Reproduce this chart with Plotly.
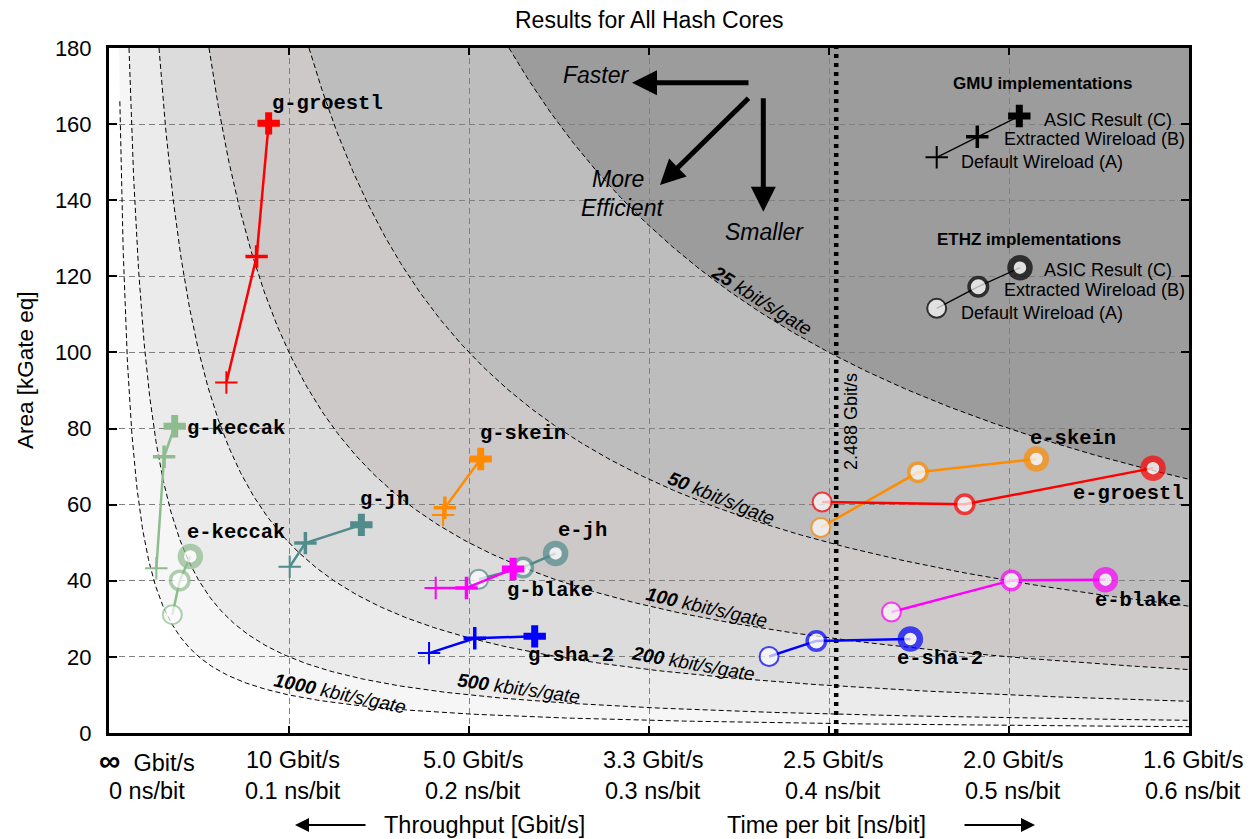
import numpy as np
import plotly.graph_objects as go

# ---------------- data ----------------
# iso-efficiency levels [kbit/s/gate]
iso_levels = [1000, 500, 200, 100, 50, 25]
x_tick_ns = [0, 0.1, 0.2, 0.3, 0.4, 0.5, 0.6]
x_tick_gbit = ["∞", "10", "5.0", "3.3", "2.5", "2.0", "1.6"]
x_tick_ns_txt = ["0", "0.1", "0.2", "0.3", "0.4", "0.5", "0.6"]
y_ticks = [0, 20, 40, 60, 80, 100, 120, 140, 160, 180]
oc48_label = "2.488 Gbit/s"
oc48_line_ns = 0.404          # position of the dotted line

# GMU implementations: (A) default wireload, (B) extracted wireload, (C) ASIC result
g_groestl_t = [0.0652, 0.0820, 0.0887]
g_groestl_a = [92.1, 125.2, 160.2]
g_keccak_t = [0.0263, 0.0306, 0.0365]
g_keccak_a = [43.3, 72.6, 80.6]
g_jh_t = [0.1004, 0.1091, 0.1402]
g_jh_a = [43.7, 49.9, 54.7]
g_skein_t = [0.1856, 0.1866, 0.2065]
g_skein_a = [57.3, 59.2, 72.0]
g_blake_t = [0.1815, 0.1986, 0.2245]
g_blake_a = [38.1, 38.1, 43.1]
g_sha2_t = [0.1778, 0.2032, 0.2365]
g_sha2_a = [21.0, 24.9, 25.4]

# ETHZ implementations
e_keccak_t = [0.0352, 0.0393, 0.0452]
e_keccak_a = [31.1, 40.1, 46.4]
e_jh_t = [0.2054, 0.2301, 0.2481]
e_jh_a = [40.4, 43.5, 47.2]
e_sha2_t = [0.3667, 0.3930, 0.4452]
e_sha2_a = [20.1, 24.2, 24.7]
e_skein_t = [0.3954, 0.4494, 0.5152]
e_skein_a = [54.0, 68.5, 72.0]
e_groestl_t = [0.3962, 0.4754, 0.5800]
e_groestl_a = [60.7, 60.1, 69.6]
e_blake_t = [0.4347, 0.5013, 0.5536]
e_blake_a = [31.8, 40.1, 40.3]

# ---------------- styles / layout helpers ----------------
OFF = 8                      # page body margin of the html page
W, H = 1251 - OFF, 839 - OFF
PL, PT, PR, PB = 109, 48, 1189, 733      # plot area in page pixels
ML, MT = PL - OFF, PT - OFF
MR, MB = (W + OFF) - PR, (H + OFF) - PB
PW, PH = PR - PL, PB - PT
XMAX, YMAX = 0.6, 180

def px(x):
    return (x - PL) / PW

def py(y):
    return (PB - y) / PH

def dx(x):
    return (x - PL) / PW * XMAX

def dy(y):
    return (PB - y) / PH * YMAX

SANS = "Liberation Sans, Arial, Helvetica, sans-serif"
MONO = "Liberation Mono, Courier New, monospace"

fill_colors = ["#f6f6f6", "#ebebeb", "#dcdcdc", "#cdc9c9", "#bdbdbd", "#9c9c9c"]

RED, GREEN, TEAL, ORANGE, MAGENTA, BLUE = "#ff0000", "#8fbc8f", "#528b8b", "#ff8c00", "#ff00ff", "#0000ff"

fig = go.Figure()
shapes = []

# shaded iso-efficiency regions
for e, col in zip(iso_levels, fill_colors):
    t0 = 1000.0 / (YMAX * e)
    ts = np.geomspace(t0, XMAX, 300)
    a = 1000.0 / (ts * e)
    path = "M %.6f,%.4f " % (t0, YMAX) + " ".join("L %.6f,%.4f" % (t, aa) for t, aa in zip(ts, a)) + " L %.6f,%.4f Z" % (XMAX, YMAX)
    shapes.append(dict(type="path", path=path, xref="x", yref="y", fillcolor=col,
                       line=dict(width=0), layer="below"))

# dashed iso lines
for e in iso_levels:
    a_start = 166 if e == 1000 else YMAX
    t0 = 1000.0 / (a_start * e)
    ts = np.geomspace(t0, XMAX, 300)
    fig.add_trace(go.Scatter(x=ts, y=1000.0 / (ts * e), mode="lines",
                             line=dict(color="black", width=1, dash="5px,3px"),
                             hoverinfo="skip", showlegend=False))

# 2.488 Gbit/s line
fig.add_trace(go.Scatter(x=[oc48_line_ns, oc48_line_ns], y=[0, YMAX], mode="lines",
                         line=dict(color="black", width=4.5, dash="4px,5px"),
                         hoverinfo="skip", showlegend=False))

LW = [2, 3.5, 6.5]
CSIZE = [19, 18.5, 19]

def gmu(t, a, color):
    fig.add_trace(go.Scatter(x=t, y=a, mode="lines+markers",
                             line=dict(color=color, width=2.5),
                             marker=dict(symbol="cross-thin", size=16, color=color,
                                         line=dict(color=color, width=[2, 3.5, 7])),
                             showlegend=False))

def ethz(t, a, color):
    fig.add_trace(go.Scatter(x=t, y=a, mode="lines+markers",
                             line=dict(color=color, width=2.5),
                             marker=dict(symbol="circle", size=CSIZE, color="white",
                                         line=dict(color=color, width=LW)),
                             showlegend=False))

gmu(g_groestl_t, g_groestl_a, RED)
gmu(g_keccak_t, g_keccak_a, GREEN)
gmu(g_jh_t, g_jh_a, TEAL)
gmu(g_skein_t, g_skein_a, ORANGE)
ethz(e_keccak_t, e_keccak_a, GREEN)
ethz(e_jh_t, e_jh_a, TEAL)
gmu(g_blake_t, g_blake_a, MAGENTA)
gmu(g_sha2_t, g_sha2_a, BLUE)
ethz(e_sha2_t, e_sha2_a, BLUE)
ethz(e_skein_t, e_skein_a, ORANGE)
ethz(e_groestl_t, e_groestl_a, RED)
ethz(e_blake_t, e_blake_a, MAGENTA)

# key samples (top right)
key_gmu_px = [(936.7, 157.3), (977.3, 136.7), (1019.3, 116.0)]
key_ethz_px = [(936.7, 308.3), (978.3, 286.7), (1020.0, 267.7)]
fig.add_trace(go.Scatter(x=[dx(p[0]) for p in key_gmu_px], y=[dy(p[1]) for p in key_gmu_px],
                         mode="lines+markers", line=dict(color="black", width=1.3),
                         marker=dict(symbol="cross-thin", size=16, color="black",
                                     line=dict(color="black", width=[2, 3.5, 7])),
                         showlegend=False, hoverinfo="skip"))
fig.add_trace(go.Scatter(x=[dx(p[0]) for p in key_ethz_px], y=[dy(p[1]) for p in key_ethz_px],
                         mode="lines+markers", line=dict(color="black", width=1.3),
                         marker=dict(symbol="circle", size=CSIZE, color="white",
                                     line=dict(color="black", width=LW)),
                         showlegend=False, hoverinfo="skip"))

ann = []

def text(x, y, s, size=18, family=SANS, xanchor="center", angle=0, color="black"):
    ann.append(dict(x=px(x), y=py(y), xref="paper", yref="paper", text=s, showarrow=False,
                    xanchor=xanchor, yanchor="middle", textangle=angle,
                    font=dict(family=family, size=size, color=color)))

def arrow(x0, y0, x1, y1, width, size=1.0):
    ann.append(dict(x=px(x1), y=py(y1), xref="paper", yref="paper", text="",
                    showarrow=True, ax=x0 - x1, ay=y0 - y1, axref="pixel", ayref="pixel",
                    arrowhead=2, arrowwidth=width, arrowsize=size, arrowcolor="black", standoff=0))

# series labels
labels = [("g-groestl", 270, 103), ("g-keccak", 185, 428), ("e-keccak", 185, 532),
          ("g-jh", 358, 500), ("g-skein", 478, 433), ("e-jh", 556, 530),
          ("g-blake", 505, 590), ("g-sha-2", 526, 655), ("e-sha-2", 895, 658),
          ("e-skein", 1028, 438), ("e-groestl", 1071, 493), ("e-blake", 1093, 600)]
for s, x, y in labels:
    text(x, y, "<b>%s</b>" % s, size=20.5, family=MONO, xanchor="left")

# iso labels
iso_lab = [(25, 762, 300, 32), (50, 722, 498, 22), (100, 707, 607, 13),
           (200, 693, 663, 10), (500, 519, 688, 8), (1000, 340, 693, 12)]
for e, x, y, ang in iso_lab:
    text(x, y, "<b><i>%d</i></b><i> kbit/s/gate</i>" % e, size=19, angle=ang)

# direction arrows
arrow(750, 82.7, 632, 82.7, 5)
arrow(750, 96.7, 660, 185, 5)
arrow(763.3, 96.7, 763.3, 211.7, 5)
text(596, 75, "<i>Faster</i>", size=23)
text(618, 179, "<i>More</i>", size=23)
text(622, 208, "<i>Efficient</i>", size=23)
text(764, 232, "<i>Smaller</i>", size=23)

# 2.488 label
text(851, 422, oc48_label, size=18, angle=-90)

# key text
text(1042, 83, "<b>GMU implementations</b>", size=17)
text(1042, 120, "ASIC Result (C)", size=18, xanchor="left")
text(1002, 139.5, "Extracted Wireload (B)", size=18, xanchor="left")
text(959, 161.5, "Default Wireload (A)", size=18, xanchor="left")
text(1029, 239, "<b>ETHZ implementations</b>", size=17)
text(1042, 270, "ASIC Result (C)", size=18, xanchor="left")
text(1002, 289.5, "Extracted Wireload (B)", size=18, xanchor="left")
text(959, 312.5, "Default Wireload (A)", size=18, xanchor="left")

# x tick labels (two rows)
for i, (v, g, n) in enumerate(zip(x_tick_ns, x_tick_gbit, x_tick_ns_txt)):
    xs = 38 if i == 0 else 4
    gtxt = ("<b><span style='font-size:30px'>%s</span></b>  Gbit/s" % g) if g == "∞" else "%s Gbit/s" % g
    for s, yy in ((gtxt, 760), (n + " ns/bit", 791)):
        ann.append(dict(x=v, y=py(yy), xref="x", yref="paper", text=s, showarrow=False,
                        xanchor="center", yanchor="middle", xshift=xs,
                        font=dict(family=SANS, size=23.5, color="black")))

# axis titles
text(484, 825, "Throughput [Gbit/s]", size=23.5)
text(826, 825, "Time per bit [ns/bit]", size=23.5)
arrow(367, 825, 295, 825, 2, 1.4)
arrow(963, 825, 1035, 825, 2, 1.4)
text(25, 370, "Area [kGate eq]", size=22.5, angle=-90)

# title (centre at page y ~ 20)
text(649, 20.5, "Results for All Hash Cores", size=23)

fig.update_layout(
    width=W, height=H,
    margin=dict(l=ML, r=MR, t=MT, b=MB, pad=0),
    paper_bgcolor="white", plot_bgcolor="white",
    shapes=shapes, annotations=ann, showlegend=False,
    xaxis=dict(range=[0, XMAX], tickvals=x_tick_ns, showticklabels=False,
               showline=True, linewidth=3, linecolor="black", mirror="allticks",
               ticks="inside", ticklen=7, tickwidth=2, tickcolor="black",
               showgrid=True, gridcolor="#808080", gridwidth=1, griddash="6px,4px",
               zeroline=False, fixedrange=True),
    yaxis=dict(range=[0, YMAX], tickvals=y_ticks,
               showline=True, linewidth=3, linecolor="black", mirror="allticks",
               ticks="inside", ticklen=8, tickwidth=2, tickcolor="black",
               showgrid=True, gridcolor="#808080", gridwidth=1, griddash="6px,4px",
               zeroline=False, ticklabelstandoff=10,
               tickfont=dict(family=SANS, size=22, color="black"), fixedrange=True),
)

fig.write_html("out.html")
